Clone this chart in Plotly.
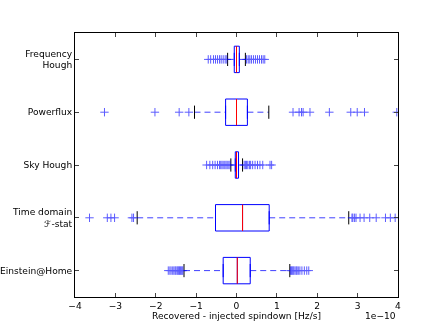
import plotly.graph_objects as go

# rows from bottom to top, values in units of 1e-10 Hz/s
positions = [1, 2, 3, 4, 5]
labels = ["Einstein@Home", "Time domain<br>ℱ-stat", "Sky Hough", "Powerflux", "Frequency<br>Hough"]

q1 = [-0.33, -0.52, -0.03, -0.27, -0.055]
median = [0.02, 0.15, 0.0, 0.0, 0.0]
q3 = [0.34, 0.81, 0.05, 0.27, 0.07]
whisker_low = [-1.30, -2.46, -0.14, -1.04, -0.22]
whisker_high = [1.32, 2.78, 0.15, 0.80, 0.22]

fliers = [
    [-1.69, -1.65, -1.62, -1.58, -1.55, -1.52, -1.50, -1.47, -1.45, -1.43, -1.41, -1.39, -1.37, -1.35, -1.33,
     1.34, 1.36, 1.38, 1.40, 1.42, 1.45, 1.48, 1.50, 1.53, 1.57, 1.62, 1.68, 1.74, 1.79],
    [-3.64, -3.20, -3.11, -3.02, -2.59, -2.55,
     2.86, 2.88, 2.92, 2.96, 3.06, 3.16, 3.30, 3.46, 3.69, 3.81, 3.93],
    [-0.74, -0.66, -0.59, -0.53, -0.47, -0.42, -0.39, -0.36, -0.33, -0.29, -0.26, -0.23, -0.19, -0.16,
     0.19, 0.22, 0.25, 0.28, 0.32, 0.35, 0.40, 0.46, 0.52, 0.58, 0.65, 0.83, 0.87],
    [-3.27, -2.02, -1.42, -1.18,
     1.40, 1.55, 1.61, 1.65, 1.82, 2.30, 2.83, 2.99, 3.17, 3.97],
    [-0.70, -0.64, -0.57, -0.52, -0.47, -0.42, -0.38, -0.33, -0.28, -0.24,
     0.25, 0.29, 0.33, 0.37, 0.42, 0.47, 0.52, 0.57, 0.62, 0.66, 0.70],
]

BOX_WIDTH = 0.5
CAP_HALF = 0.125
BLUE = "#0000ff"
FONT_SIZE = 9.1

fig = go.Figure()

fig.add_trace(
    go.Box(
        y=positions,
        q1=q1,
        median=median,
        q3=q3,
        lowerfence=q1,
        upperfence=q3,
        orientation="h",
        width=BOX_WIDTH,
        fillcolor="rgba(0,0,0,0)",
        line=dict(color=BLUE, width=1),
        boxpoints=False,
        hoverinfo="skip",
        showlegend=False,
    )
)

# dashed whiskers, black caps, red medians
wx, wy, cx, cy, mx, my = [], [], [], [], [], []
for i, p in enumerate(positions):
    wx += [whisker_low[i], q1[i], None, q3[i], whisker_high[i], None]
    wy += [p, p, None, p, p, None]
    cx += [whisker_low[i], whisker_low[i], None, whisker_high[i], whisker_high[i], None]
    cy += [p - CAP_HALF, p + CAP_HALF, None, p - CAP_HALF, p + CAP_HALF, None]
    mx += [median[i], median[i], None]
    my += [p - BOX_WIDTH / 2, p + BOX_WIDTH / 2, None]

fig.add_trace(go.Scatter(x=wx, y=wy, mode="lines", line=dict(color=BLUE, width=1, dash="6px,4px"),
                         opacity=0.75, showlegend=False, hoverinfo="skip"))
fig.add_trace(go.Scatter(x=cx, y=cy, mode="lines", line=dict(color="black", width=1),
                         showlegend=False, hoverinfo="skip"))
fig.add_trace(go.Scatter(x=mx, y=my, mode="lines", line=dict(color="red", width=1),
                         showlegend=False, hoverinfo="skip"))

fx, fy = [], []
for p, vals in zip(positions, fliers):
    fx += vals
    fy += [p] * len(vals)
fig.add_trace(
    go.Scatter(
        x=fx, y=fy, mode="markers",
        marker=dict(symbol="cross-thin", size=6, line=dict(color=BLUE, width=1)),
        opacity=0.65, showlegend=False, hoverinfo="skip",
    )
)

fig.update_layout(
    width=443,
    height=332,
    margin=dict(l=75, r=45, t=33, b=35, autoexpand=False),
    plot_bgcolor="white",
    paper_bgcolor="white",
    font=dict(family="DejaVu Sans", size=FONT_SIZE, color="black"),
    annotations=[
        dict(text="1e−10", x=1, y=-0.072, xref="paper", yref="paper", xanchor="right",
             yanchor="middle", showarrow=False, font=dict(size=FONT_SIZE)),
    ],
)
fig.update_xaxes(
    range=[-4, 4], dtick=1, ticks="inside", ticklen=4, showline=True, linecolor="black",
    linewidth=1, mirror="allticks", showgrid=False, zeroline=False, automargin=False,
    title=dict(text="Recovered - injected spindown [Hz/s]", standoff=2, font=dict(size=FONT_SIZE)),
)
fig.update_yaxes(
    range=[0.5, 5.5], tickvals=positions, ticktext=labels, ticks="inside", ticklen=4,
    showline=True, linecolor="black", linewidth=1, mirror="allticks", showgrid=False,
    zeroline=False, automargin=False,
)

fig.write_html(
    "out.html",
    config={"displayModeBar": False},
    post_script="document.body.style.margin='0';",
)
